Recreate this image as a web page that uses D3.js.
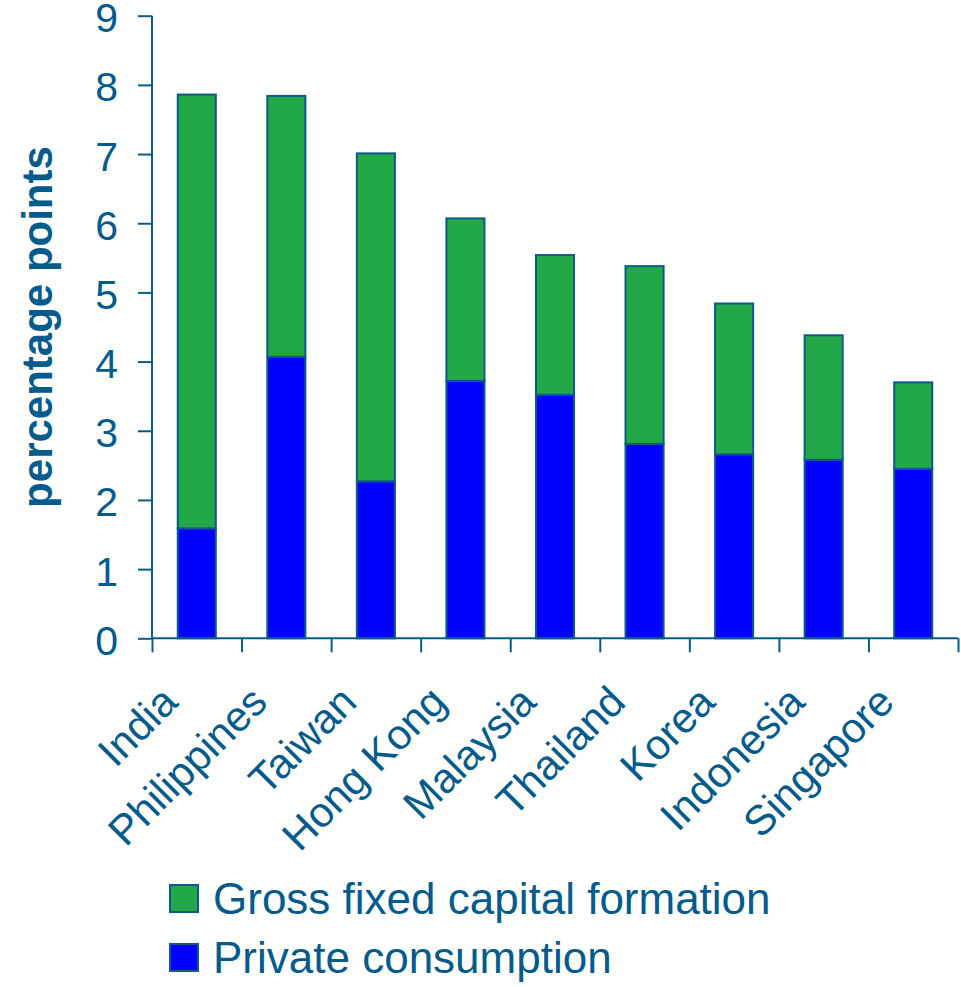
<!DOCTYPE html>
<html>
<head>
<meta charset="utf-8">
<script src="https://cdn.jsdelivr.net/npm/d3@7"></script>
<style>
  body { margin: 0; background: #fff; }
  text { font-family: "Liberation Sans", Arial, Helvetica, sans-serif; fill: #045b8c; }
</style>
</head>
<body>
<svg id="chart" width="961" height="987"></svg>
<script>
// Contribution to growth by component, percentage points
const countries = ["India", "Philippines", "Taiwan", "Hong Kong", "Malaysia", "Thailand", "Korea", "Indonesia", "Singapore"];
const privateConsumption = [1.59, 4.07, 2.27, 3.72, 3.52, 2.81, 2.66, 2.58, 2.45];
const capitalFormation   = [6.27, 3.77, 4.74, 2.35, 2.02, 2.57, 2.18, 1.80, 1.25];
const yTicks = [0, 1, 2, 3, 4, 5, 6, 7, 8, 9];
const seriesKeys = ["consumption", "capital"];
const seriesNames = { capital: "Gross fixed capital formation", consumption: "Private consumption" };
const seriesColors = { capital: "#22a846", consumption: "#0000ff" };
const legendOrder = ["capital", "consumption"];

const axisColor = "#0b5a8a";
const svg = d3.select("#chart");

const x0 = 152, x1 = 958, yTop = 15.7, yBottom = 638.3;

const x = d3.scaleBand().domain(countries).range([x0, x1]).paddingInner(0.575).paddingOuter(0.2875);
const xEdges = d3.scaleLinear().domain([0, countries.length]).range([x0, x1]);
const y = d3.scaleLinear().domain([0, 9]).range([yBottom, yTop]);

const rows = countries.map((c, i) => ({ country: c, consumption: privateConsumption[i], capital: capitalFormation[i] }));
const stacked = d3.stack().keys(seriesKeys)(rows);

// stacked bars
svg.append("g").selectAll("g").data(stacked).join("g")
  .attr("fill", d => seriesColors[d.key])
  .selectAll("rect").data(d => d).join("rect")
  .attr("x", d => x(d.data.country))
  .attr("width", x.bandwidth())
  .attr("y", d => y(d[1]))
  .attr("height", d => y(d[0]) - y(d[1]))
  .attr("stroke", axisColor)
  .attr("stroke-width", 2);

// y axis
const yAxis = svg.append("g").attr("transform", `translate(${x0},0)`)
  .call(d3.axisLeft(y).tickValues(yTicks).tickSize(14).tickPadding(20).tickFormat(d3.format("d")));
yAxis.selectAll("path, line").attr("stroke", axisColor).attr("stroke-width", 2);
yAxis.select(".domain").attr("d", `M0,${yTop}V${yBottom}`);
yAxis.selectAll("text").attr("font-size", 41).attr("fill", "#045b8c").attr("dy", "0.39em")
  .style("font-family", '"Liberation Sans", Arial, sans-serif');

// x axis with ticks at category boundaries
const xAxis = svg.append("g").attr("transform", `translate(0,${yBottom})`)
  .call(d3.axisBottom(xEdges).tickValues(d3.range(countries.length + 1)).tickSize(14).tickFormat(""));
xAxis.selectAll("path, line").attr("stroke", axisColor).attr("stroke-width", 2);
xAxis.select(".domain").attr("d", `M${x0},0H${x1}`);

// rotated category labels
svg.append("g").selectAll("text").data(countries).join("text")
  .attr("transform", d => `translate(${x(d) + x.bandwidth() / 2 - 17},${yBottom + 66}) rotate(-45)`)
  .attr("text-anchor", "end")
  .attr("font-size", 42)
  .text(d => d);

// y axis title
svg.append("text")
  .attr("transform", `translate(52,${(147 + 507) / 2}) rotate(-90)`)
  .attr("text-anchor", "middle")
  .attr("font-size", 42)
  .attr("font-weight", "bold")
  .text("percentage points");

// legend
const legend = svg.append("g").selectAll("g").data(legendOrder).join("g")
  .attr("transform", (d, i) => `translate(170,${885 + i * 59})`);
legend.append("rect").attr("width", 28).attr("height", 27)
  .attr("fill", d => seriesColors[d]).attr("stroke", axisColor).attr("stroke-width", 2);
legend.append("text").attr("x", 43).attr("y", 29).attr("font-size", 44).text(d => seriesNames[d]);
</script>
</body>
</html>
